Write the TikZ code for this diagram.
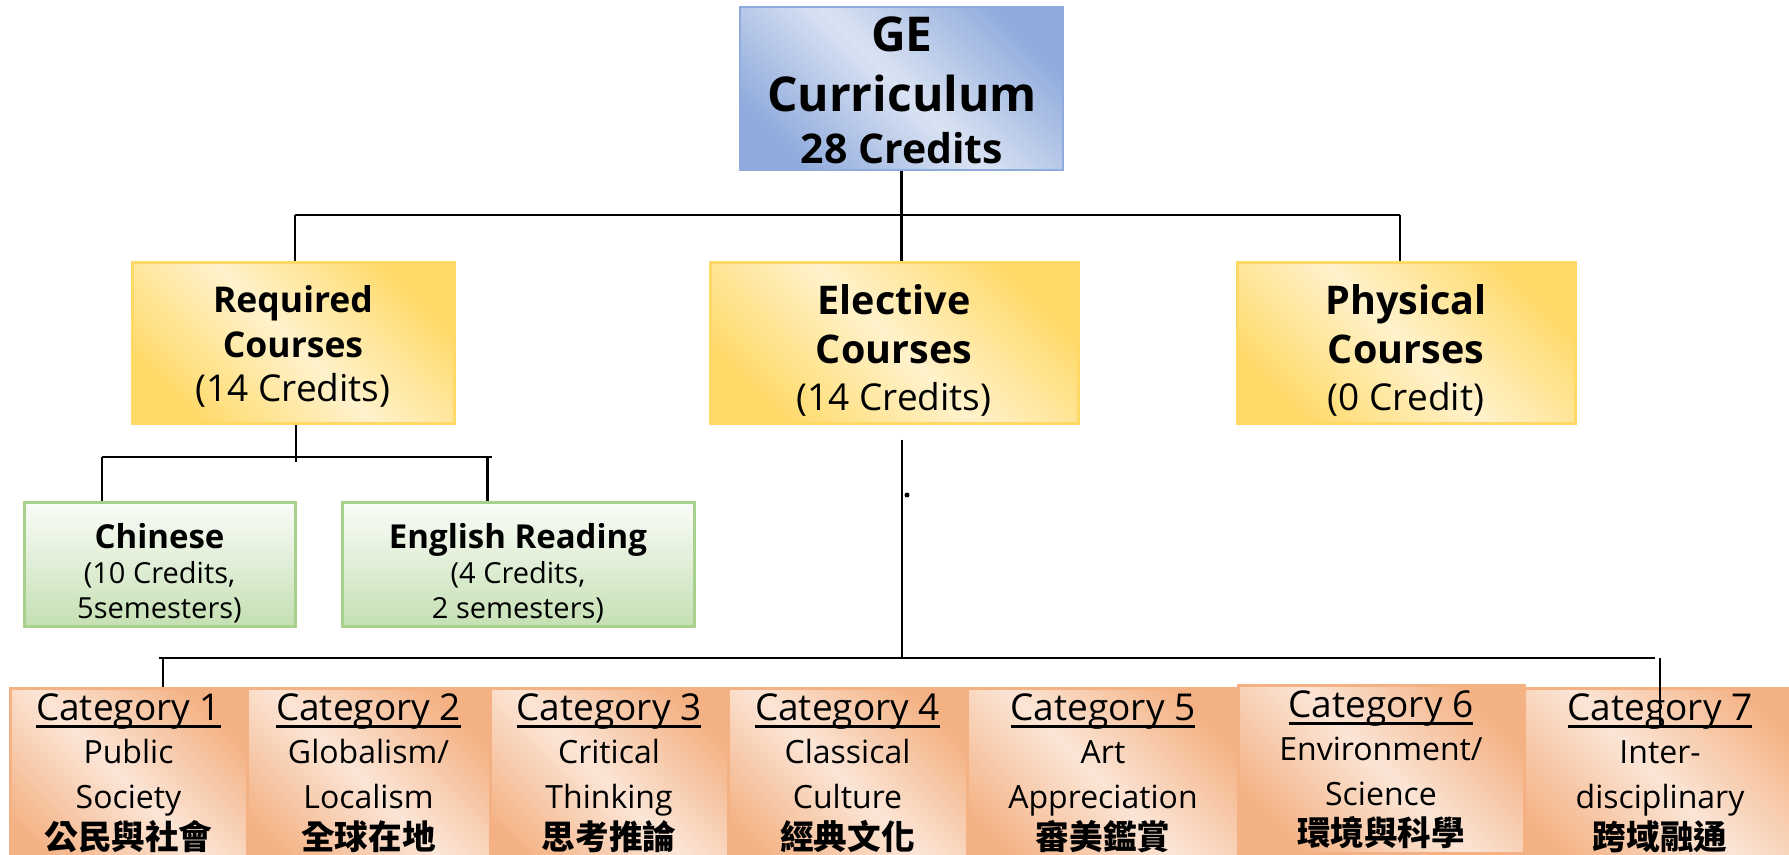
\documentclass[tikz,border=0pt]{standalone}
\usepackage{fontspec}
\setmainfont{Open Sans}
\newfontfamily\cjk{Noto Sans CJK TC}
\usetikzlibrary{fit}
\definecolor{ydk}{HTML}{FFD966}
\definecolor{ylt}{HTML}{FFF2CC}
\definecolor{bdk}{HTML}{8FAADC}
\definecolor{blt}{HTML}{DAE3F3}
\definecolor{odk}{HTML}{F4B183}
\definecolor{olt}{HTML}{FBE5D6}
\definecolor{gdk}{HTML}{C5E0B4}
\definecolor{glt}{HTML}{FAFCF8}
\definecolor{gbd}{HTML}{A9D18E}
\pgfdeclarehorizontalshading{ylwsh}{100bp}{color(0bp)=(ydk); color(24bp)=(ydk); color(50bp)=(ylt); color(76bp)=(ydk); color(100bp)=(ydk)}
\pgfdeclarehorizontalshading{blush}{100bp}{color(0bp)=(bdk); color(24bp)=(bdk); color(50bp)=(blt); color(76bp)=(bdk); color(100bp)=(bdk)}
\pgfdeclarehorizontalshading{orgsh}{100bp}{color(0bp)=(odk); color(24bp)=(odk); color(50bp)=(olt); color(76bp)=(odk); color(100bp)=(odk)}
\newcommand\catul[1]{\setbox0\hbox{#1}\rlap{\rule[-4.2pt]{\wd0}{1.5pt}}\box0}
\tikzset{
  box/.style={inner sep=0pt, line width=1.5pt},
  bluebox/.style={box, draw=bdk, line width=1.2pt, shade, shading=blush, shading angle=45},
  ylwbox/.style={box, draw=ydk, shade, shading=ylwsh, shading angle=45},
  grnbox/.style={box, draw=gbd, top color=glt, bottom color=gdk},
  orgbox/.style={box, draw=odk, shade, shading=orgsh, shading angle=45},
  txt/.style={anchor=base, inner sep=0pt, text=black},
  geft/.style={txt, font=\fontsize{24pt}{28pt}\selectfont\bfseries},
  gecr/.style={txt, font=\fontsize{20.5pt}{24pt}\selectfont\bfseries},
  rqft/.style={txt, font=\fontsize{17.75pt}{21pt}\selectfont\bfseries},
  elft/.style={txt, font=\fontsize{19.75pt}{23pt}\selectfont\bfseries},
  crft/.style={txt, font=\fontsize{18.5pt}{22pt}\selectfont},
  gtft/.style={txt, font=\fontsize{16.5pt}{20pt}\selectfont\bfseries},
  gsft/.style={txt, font=\fontsize{14.5pt}{18pt}\selectfont},
  ctft/.style={txt, font=\fontsize{18.5pt}{22pt}\selectfont},
  cbft/.style={txt, font=\fontsize{16pt}{20pt}\selectfont},
  czft/.style={txt, font=\fontsize{16.8pt}{20pt}\selectfont\cjk\bfseries},
  conn/.style={line width=1.2pt, draw=black}
}
\begin{document}
\begin{tikzpicture}[x=0.5pt, y=-0.5pt]
\clip (0,0) rectangle (1789,855);
\fill[white] (0,0) rectangle (1789,855);
% boxes
\node[bluebox, fit={(740,7) (1063,170)}] (ge) {};
\node[ylwbox, fit={(132,263) (454,424)}] (req) {};
\node[ylwbox, fit={(710,263) (1078,424)}] (elec) {};
\node[ylwbox, fit={(1237,263) (1575,424)}] (phy) {};
\node[grnbox, fit={(24,503) (295,626)}] (chi) {};
\node[grnbox, fit={(342,503) (694,626)}] (eng) {};
\node[orgbox, fit={(10,688) (247,880)}] (c1) {};
\node[orgbox, fit={(247,688) (490,880)}] (c2) {};
\node[orgbox, fit={(490,688) (728,880)}] (c3) {};
\node[orgbox, fit={(728,688) (967,880)}] (c4) {};
\node[orgbox, fit={(967,688) (1239,880)}] (c5) {};
\node[orgbox, fit={(1520,688) (1810,880)}] (c7) {};
\node[orgbox, fit={(1238,685) (1524,853)}] (c6) {};
% texts
\node[geft] (geA) at (902,52) {GE};
\node[geft] (geB) at (902,112) {Curriculum};
\node[gecr] (geC) at (902,164) {28 Credits};
\node[rqft] (reqA) at (293,313) {Required};
\node[rqft] (reqB) at (293,358) {Courses};
\node[crft] (reqC) at (293,402) {(14 Credits)};
\node[elft] (elA) at (894,315) {Elective};
\node[elft] (elB) at (894,364) {Courses};
\node[crft] (elC) at (894,411) {(14 Credits)};
\node[elft] (phA) at (1406,315) {Physical};
\node[elft] (phB) at (1406,364) {Courses};
\node[crft] (phC) at (1406,411) {(0 Credit)};
\node[gtft] (chA) at (159.5,548) {Chinese};
\node[gsft] (chB) at (159.5,583) {(10 Credits,};
\node[gsft] (chC) at (159.5,618) {5semesters)};
\node[gtft] (enA) at (518,548) {English Reading};
\node[gsft] (enB) at (518,583) {(4 Credits,};
\node[gsft] (enC) at (518,618) {2 semesters)};
% categories
\node[ctft] (t1a) at (128.5,720) {\catul{Category 1}};
\node[cbft] (t1b) at (128.5,763) {Public};
\node[cbft] (t1c) at (128.5,808) {Society};
\node[czft] (t1d) at (128.5,849) {公民與社會};
\node[ctft] (t2a) at (368.5,720) {\catul{Category 2}};
\node[cbft] (t2b) at (368.5,763) {Globalism/};
\node[cbft] (t2c) at (368.5,808) {Localism};
\node[czft] (t2d) at (368.5,849) {全球在地};
\node[ctft] (t3a) at (609,720) {\catul{Category 3}};
\node[cbft] (t3b) at (609,763) {Critical};
\node[cbft] (t3c) at (609,808) {Thinking};
\node[czft] (t3d) at (609,849) {思考推論};
\node[ctft] (t4a) at (847.5,720) {\catul{Category 4}};
\node[cbft] (t4b) at (847.5,763) {Classical};
\node[cbft] (t4c) at (847.5,808) {Culture};
\node[czft] (t4d) at (847.5,849) {經典文化};
\node[ctft] (t5a) at (1103,720) {\catul{Category 5}};
\node[cbft] (t5b) at (1103,763) {Art};
\node[cbft] (t5c) at (1103,808) {Appreciation};
\node[czft] (t5d) at (1103,849) {審美鑑賞};
\node[ctft] (t6a) at (1381,717) {\catul{Category 6}};
\node[cbft] (t6b) at (1381,760) {Environment/};
\node[cbft] (t6c) at (1381,805) {Science};
\node[czft] (t6d) at (1381,845) {環境與科學};
\node[ctft] (t7a) at (1660,720) {\catul{Category 7}};
\node[cbft] (t7b) at (1660,763) {Inter-};
\node[cbft] (t7c) at (1660,808) {disciplinary};
\node[czft] (t7d) at (1660,849) {跨域融通};
\node[circle, fill=black, inner sep=0pt, minimum size=2.5pt] (dot) at (907,495) {};
% connectors
\coordinate (hL) at (295,215);
\coordinate (hR) at (1400,215);
\draw[conn] (ge.south) -- (ge.south |- elec.north);
\draw[conn] (hL) -- (hR);
\draw[conn] (hL) -- (hL |- req.north);
\draw[conn] (hR) -- (hR |- phy.north);
\coordinate (rj) at (296,462);
\draw[conn] (rj |- req.south) -- (rj);
\coordinate (cL) at (102,457);
\coordinate (cR) at (491.5,457);
\coordinate (cR2) at (487.5,457);
\draw[conn] (cL) -- (cR);
\draw[conn] (cL) -- (cL |- chi.north);
\draw[conn] (cR2) -- (cR2 |- eng.north);
\coordinate (eTop) at (902,440);
\coordinate (eBot) at (902,658);
\draw[conn] (eTop) -- (eBot);
\coordinate (bL) at (159,658);
\coordinate (bL2) at (163,658);
\coordinate (bR) at (1655,658);
\coordinate (bR2) at (1660,658);
\coordinate (c7j) at (1660,727);
\draw[conn] (bL) -- (bR);
\draw[conn] (bL2) -- (bL2 |- c1.north);
\draw[conn] (bR2) -- (c7j);
\end{tikzpicture}
\end{document}
